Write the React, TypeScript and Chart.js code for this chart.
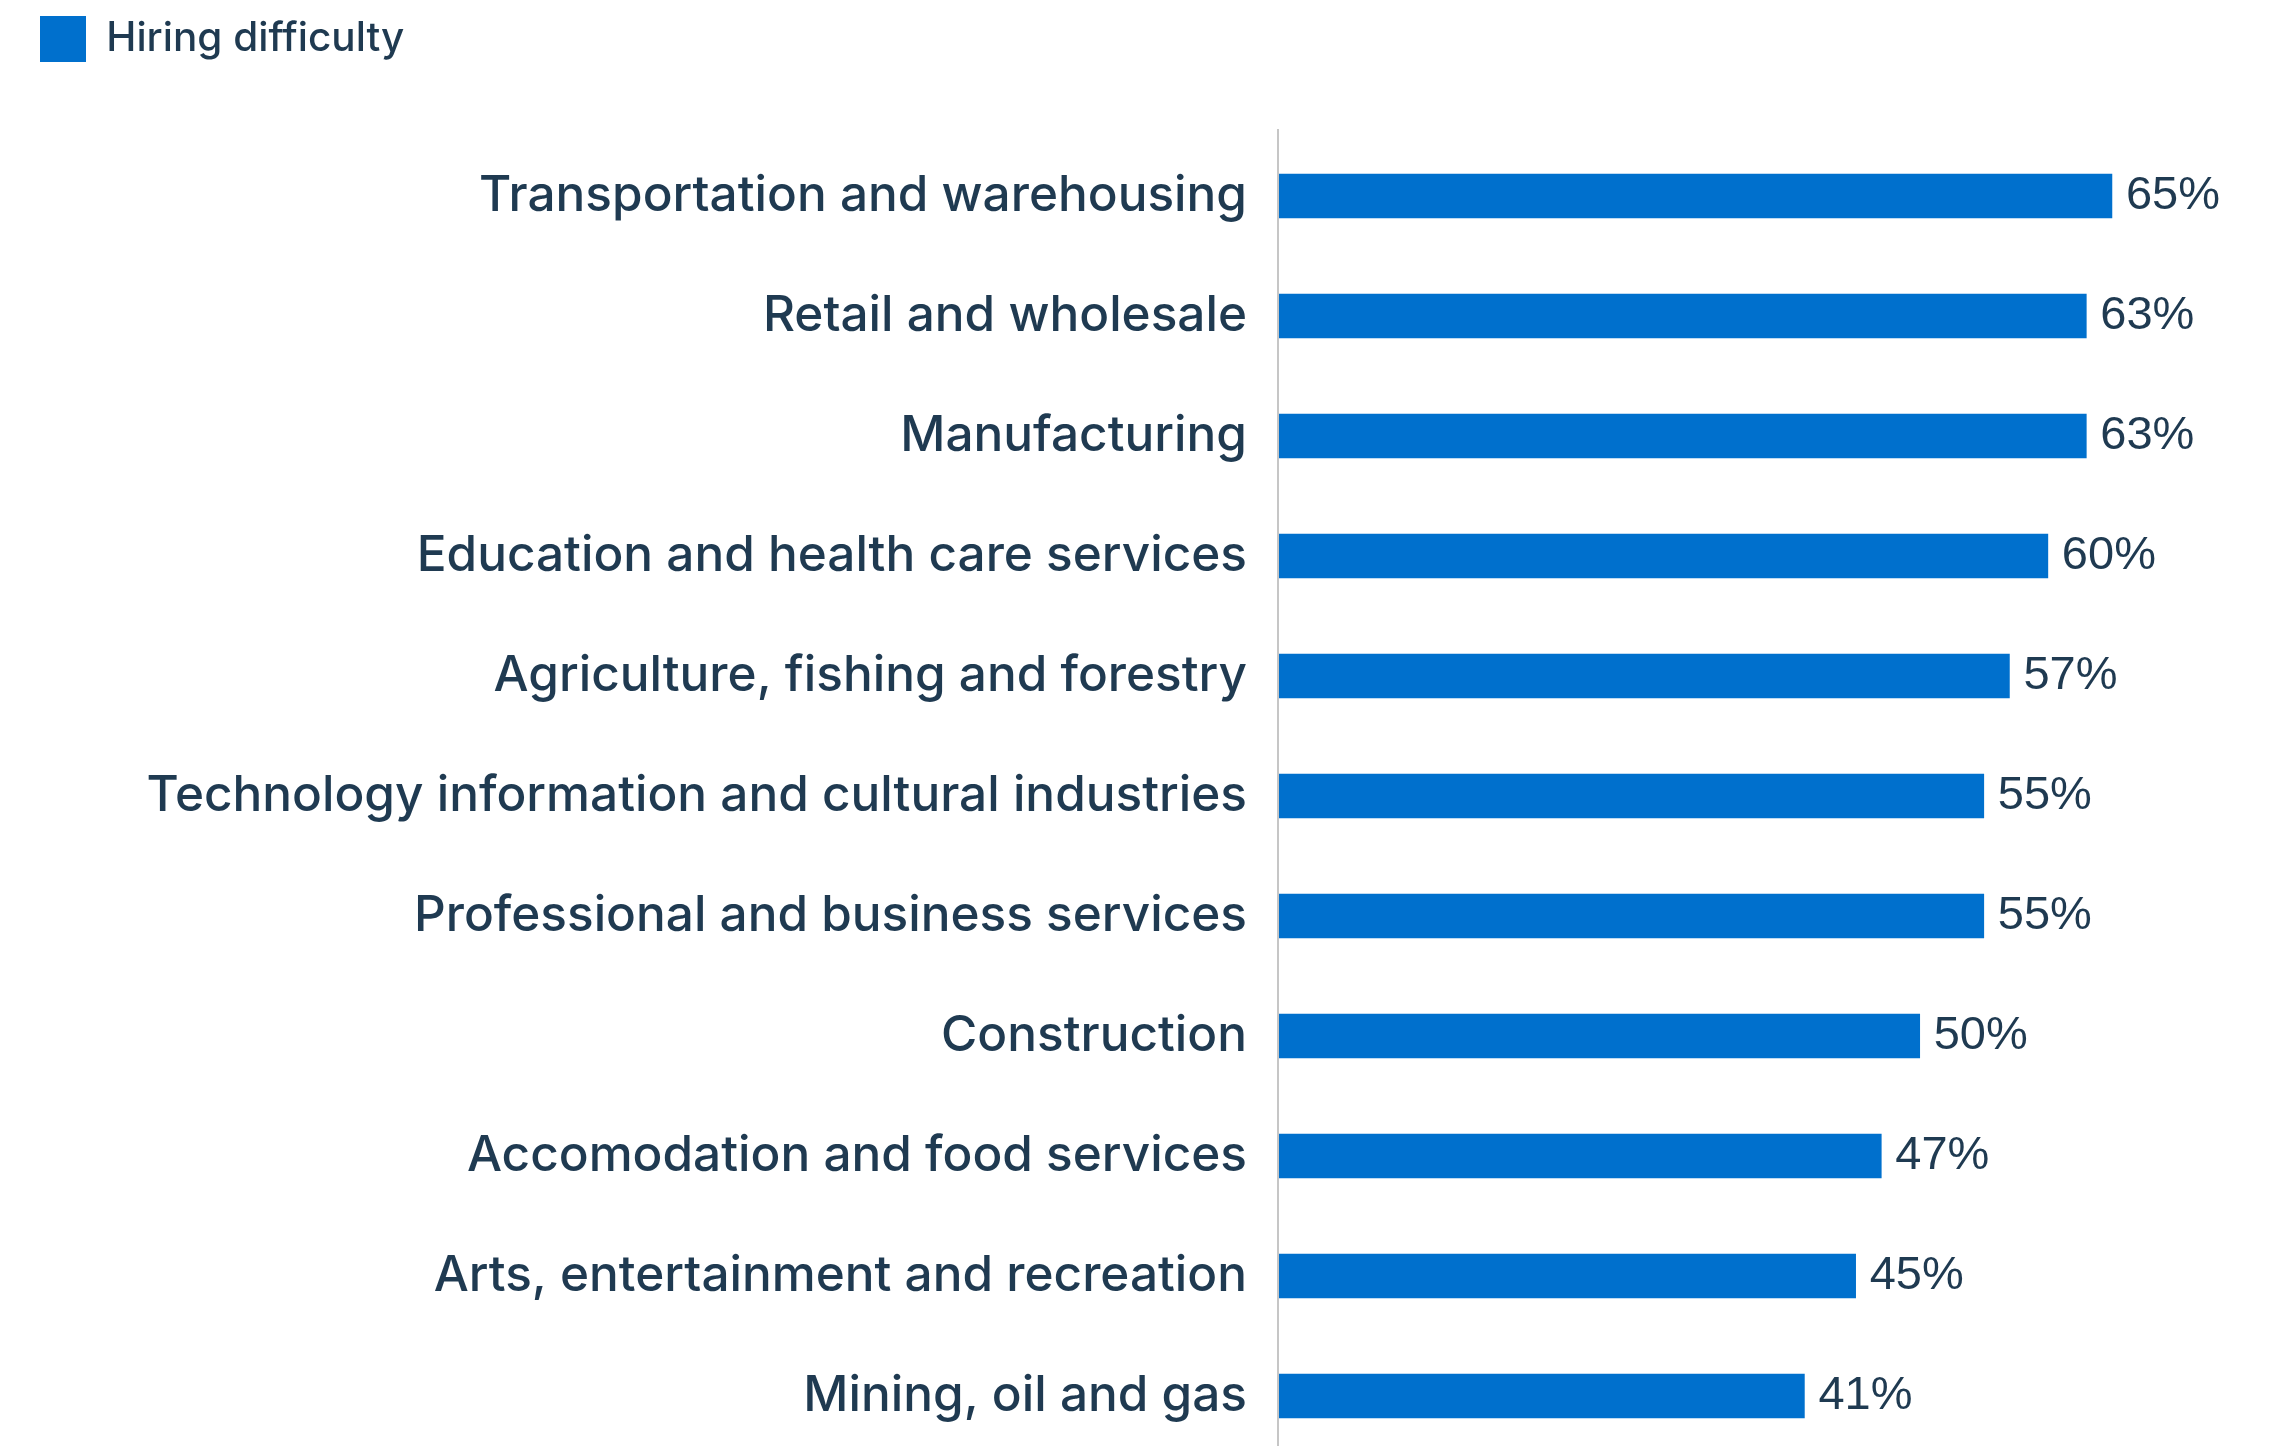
import React, { useEffect, useRef } from "react";
import { Chart, registerables } from "chart.js";

Chart.register(...registerables);

const categories: string[] = [
  "Transportation and warehousing",
  "Retail and wholesale",
  "Manufacturing",
  "Education and health care services",
  "Agriculture, fishing and forestry",
  "Technology information and cultural industries",
  "Professional and business services",
  "Construction",
  "Accomodation and food services",
  "Arts, entertainment and recreation",
  "Mining, oil and gas",
];

const hiringDifficulty: number[] = [65, 63, 63, 60, 57, 55, 55, 50, 47, 45, 41];

const seriesLabel = "Hiring difficulty";

const NAVY = "#1f3a51";
const BLUE = "#0070cd";
const AXIS = "#c6c6c6";

const axisLinePlugin = {
  id: "axisLine",
  beforeDatasetsDraw(chart: any) {
    const { ctx, chartArea } = chart;
    ctx.save();
    ctx.strokeStyle = AXIS;
    ctx.lineWidth = 2;
    ctx.beginPath();
    ctx.moveTo(chartArea.left - 1, chartArea.top - 7);
    ctx.lineTo(chartArea.left - 1, chart.height);
    ctx.stroke();
    ctx.restore();
  },
};

const valueLabelPlugin = {
  id: "valueLabels",
  afterDatasetsDraw(chart: any) {
    const { ctx } = chart;
    const meta = chart.getDatasetMeta(0);
    const data = chart.data.datasets[0].data as number[];
    ctx.save();
    ctx.fillStyle = NAVY;
    ctx.font = '47px "Liberation Sans", Arial, sans-serif';
    ctx.textAlign = "left";
    ctx.textBaseline = "middle";
    meta.data.forEach((bar: any, i: number) => {
      ctx.fillText(`${data[i]}%`, bar.x + 14, bar.y);
    });
    ctx.restore();
  },
};

export default function App() {
  const canvasRef = useRef<HTMLCanvasElement | null>(null);

  useEffect(() => {
    if (!canvasRef.current) return;
    const chart = new Chart(canvasRef.current, {
      type: "bar",
      data: {
        labels: categories,
        datasets: [
          {
            label: seriesLabel,
            data: hiringDifficulty,
            backgroundColor: BLUE,
            borderWidth: 0,
            barThickness: 44,
          },
        ],
      },
      options: {
        indexAxis: "y",
        responsive: false,
        animation: false,
        layout: { padding: { left: 24, right: 96, top: 0, bottom: 2 } },
        plugins: {
          legend: {
            display: true,
            position: "top",
            align: "start",
            labels: {
              boxWidth: 46,
              boxHeight: 46,
              padding: 8,
              color: NAVY,
              font: { family: "Inter", size: 40.5, weight: "500" },
            },
          },
          tooltip: { enabled: false },
        },
        scales: {
          x: {
            position: "top",
            min: 0,
            max: 70,
            display: true,
            grid: { display: false, drawTicks: false },
            border: { display: false },
            ticks: { display: false },
            afterFit(s: any) {
              s.height = 64;
            },
          },
          y: {
            grid: { display: false, drawTicks: false },
            border: { display: false },
            ticks: {
              color: NAVY,
              padding: 32,
              font: { family: "Inter", size: 49.5, weight: "500" },
            },
            afterFit(s: any) {
              s.width = 1247;
              s.paddingTop = 0;
              s.paddingBottom = 0;
            },
          },
        },
      },
      plugins: [axisLinePlugin, valueLabelPlugin],
    } as any);
    return () => chart.destroy();
  }, []);

  return (
    <div style={{ height: 1446, marginBottom: -8, overflow: "hidden" }}>
      <canvas ref={canvasRef} width={2264} height={1450} style={{ display: "block" }} />
    </div>
  );
}
